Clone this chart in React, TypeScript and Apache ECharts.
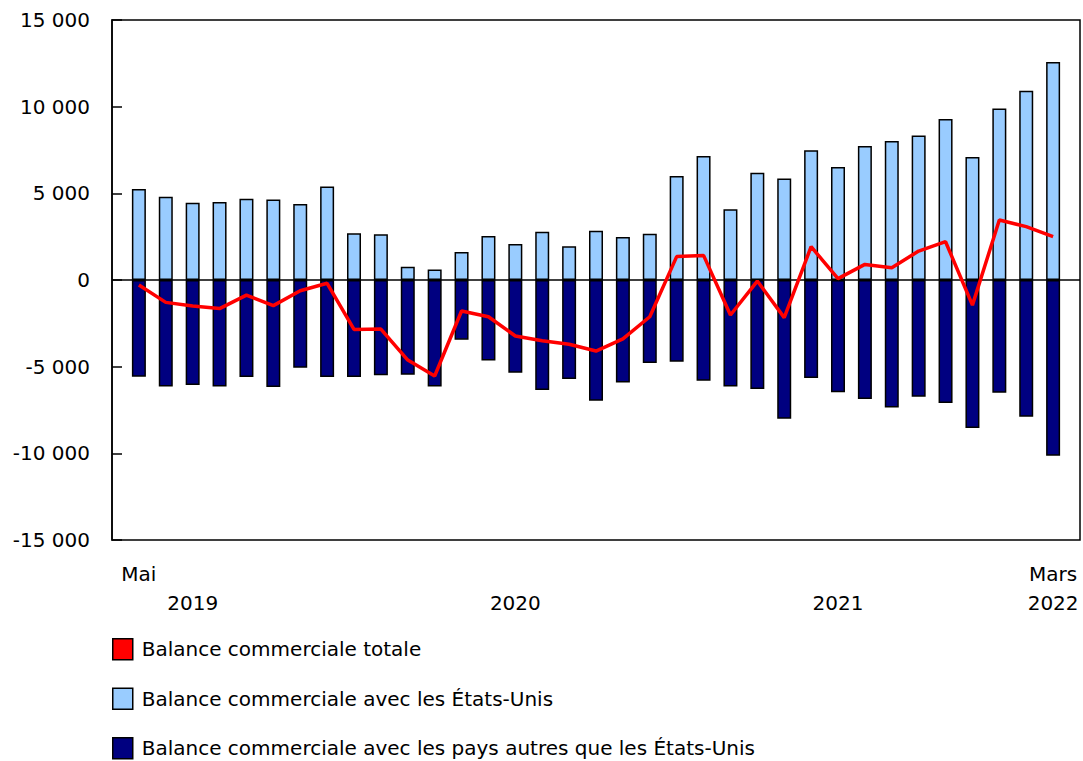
import React, { useEffect, useRef } from "react";
import * as echarts from "echarts";

// May 2019 .. March 2022 (35 months)
const months = [
  "Mai 2019", "Juin 2019", "Juil. 2019", "Août 2019", "Sept. 2019", "Oct. 2019", "Nov. 2019", "Déc. 2019",
  "Janv. 2020", "Févr. 2020", "Mars 2020", "Avr. 2020", "Mai 2020", "Juin 2020", "Juil. 2020", "Août 2020",
  "Sept. 2020", "Oct. 2020", "Nov. 2020", "Déc. 2020",
  "Janv. 2021", "Févr. 2021", "Mars 2021", "Avr. 2021", "Mai 2021", "Juin 2021", "Juil. 2021", "Août 2021",
  "Sept. 2021", "Oct. 2021", "Nov. 2021", "Déc. 2021",
  "Janv. 2022", "Févr. 2022", "Mars 2022",
];

const usBalance = [
  5250, 4810, 4460, 4500, 4690, 4640, 4390, 5390,
  2690, 2640, 770, 600, 1620, 2540, 2080, 2790, 1940, 2840, 2480, 2670,
  6000, 7150, 4080, 6190, 5850, 7480, 6520, 7730, 8020, 8330, 9290, 7100,
  9900, 10920, 12580,
];

const otherBalance = [
  -5580, -6150, -6060, -6150, -5600, -6170, -5060, -5600,
  -5600, -5500, -5460, -6140, -3440, -4650, -5350, -6350, -5710, -6960, -5920, -4790,
  -4710, -5810, -6150, -6290, -8000, -5650, -6480, -6870, -7350, -6730, -7100, -8540,
  -6500, -7890, -10140,
];

const totalBalance = [
  -290, -1290, -1500, -1650, -870, -1480, -620, -190,
  -2850, -2830, -4620, -5540, -1790, -2120, -3230, -3500, -3710, -4100, -3400, -2120,
  1350, 1420, -2020, -60, -2170, 1920, 80, 900, 710, 1670, 2210, -1450,
  3460, 3080, 2500,
];

// axis label texts: [category index, text]
const monthLabels: [number, string][] = [[0, "Mai"], [34, "Mars"]];
const yearLabels: [number, string][] = [[2, "2019"], [14, "2020"], [26, "2021"], [34, "2022"]];

const yTicks = { min: -15000, max: 15000, interval: 5000 };

const seriesNames = [
  "Balance commerciale totale",
  "Balance commerciale avec les États-Unis",
  "Balance commerciale avec les pays autres que les États-Unis",
];

const FONT = "'DejaVu Sans', Verdana, sans-serif";
const FS = 20;

function fmt(v: number): string {
  const s = Math.abs(v).toString().replace(/\B(?=(\d{3})+(?!\d))/g, " ");
  return (v < 0 ? "-" : "") + s;
}

export default function App() {
  const ref = useRef<HTMLDivElement>(null);

  useEffect(() => {
    if (!ref.current) return;
    const chart = echarts.init(ref.current, undefined, { renderer: "svg" });

    const labelFor = (v: number) => {
      const m = monthLabels.find((x) => x[0] === v);
      const y = yearLabels.find((x) => x[0] === v);
      if (!m && !y) return "";
      return (m ? m[1] : "") + "\n" + (y ? y[1] : "");
    };

    chart.setOption({
      animation: false,
      textStyle: { fontFamily: FONT },
      grid: {
        left: 112,
        right: 2,
        top: 20,
        bottom: 221,
        show: true,
        borderColor: "#000",
        borderWidth: 1.5,
        backgroundColor: "transparent",
      },
      legend: {
        orient: "vertical",
        left: 112,
        top: 638,
        height: 200,
        padding: 0,
        itemWidth: 20,
        itemHeight: 21,
        itemGap: 27,
        selectedMode: false,
        textStyle: {
          fontFamily: FONT,
          fontSize: FS,
          color: "#000",
          lineHeight: 21,
          padding: [0, 0, 0, 4],
        },
        itemStyle: { borderColor: "#000", borderWidth: 1.5 },
        data: [
          { name: seriesNames[0], icon: "rect", itemStyle: { color: "#ff0000", borderColor: "#000", borderWidth: 1.5 } },
          { name: seriesNames[1], icon: "rect", itemStyle: { color: "#99ccff", borderColor: "#000", borderWidth: 1.5 } },
          { name: seriesNames[2], icon: "rect", itemStyle: { color: "#000080", borderColor: "#000", borderWidth: 1.5 } },
        ],
      },
      xAxis: {
        type: "value",
        min: -1,
        max: months.length,
        interval: 1,
        axisLine: { show: false },
        axisTick: { show: false },
        splitLine: { show: false },
        axisLabel: {
          show: true,
          margin: 19,
          fontFamily: FONT,
          fontSize: FS,
          lineHeight: 29,
          color: "#000",
          align: "center",
          showMinLabel: true,
          showMaxLabel: true,
          formatter: (v: number) => labelFor(v),
        },
      },
      yAxis: {
        type: "value",
        min: yTicks.min,
        max: yTicks.max,
        interval: yTicks.interval,
        axisLine: { show: true, onZero: false, lineStyle: { color: "#000", width: 1.5 } },
        axisTick: { show: true, inside: true, length: 10, lineStyle: { color: "#000", width: 1.5 } },
        splitLine: { show: false },
        axisLabel: {
          margin: 22,
          fontFamily: FONT,
          fontSize: FS,
          color: "#000",
          formatter: (v: number) => fmt(v),
        },
      },
      series: [
        {
          name: seriesNames[1],
          type: "bar",
          barWidth: 14,
          barGap: "-100%",
          data: usBalance.map((v, i) => [i, v]),
          itemStyle: { color: "#99ccff", borderColor: "#000", borderWidth: 1.5 },
          z: 2,
        },
        {
          name: seriesNames[2],
          type: "bar",
          barWidth: 14,
          barGap: "-100%",
          data: otherBalance.map((v, i) => [i, v]),
          itemStyle: { color: "#000080", borderColor: "#000", borderWidth: 1.5 },
          z: 2,
          markLine: {
            silent: true,
            symbol: "none",
            label: { show: false },
            lineStyle: { color: "#000", width: 1.5, type: "solid" },
            data: [{ yAxis: 0 }],
          },
        },
        {
          name: seriesNames[0],
          type: "line",
          data: totalBalance.map((v, i) => [i, v]),
          showSymbol: false,
          symbol: "none",
          itemStyle: { color: "#ff0000", borderColor: "#000", borderWidth: 1.5 },
          lineStyle: { color: "#ff0000", width: 3.5 },
          z: 5,
        },
      ],
    });

    return () => chart.dispose();
  }, []);

  return (
    <div
      ref={ref}
      style={{ position: "absolute", left: 0, top: 0, width: 1083, height: 761 }}
    />
  );
}
